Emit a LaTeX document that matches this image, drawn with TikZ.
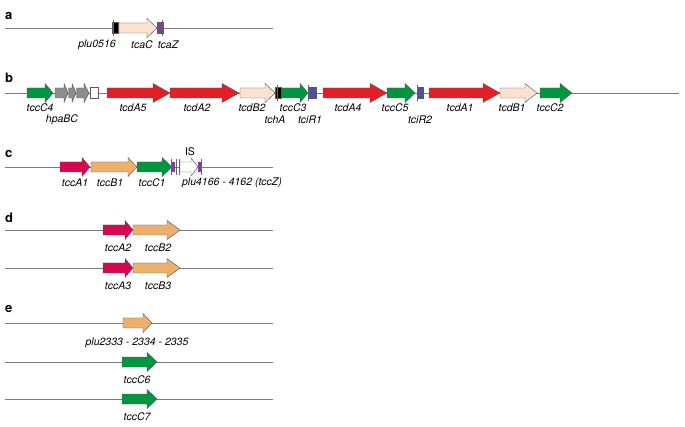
\documentclass[tikz,border=0pt]{standalone}
\usepackage{fontspec}
\setmainfont{TeX Gyre Heros}
\definecolor{gGreen}{HTML}{00963F}
\definecolor{gRed}{HTML}{E31E26}
\definecolor{gMag}{HTML}{D7064F}
\definecolor{gTan}{HTML}{EDB06C}
\definecolor{gPeach}{HTML}{FBE1CF}
\definecolor{gGray}{HTML}{8C8C8C}
\definecolor{gPurp}{HTML}{7E3F98}
\definecolor{gBlue}{HTML}{4D4FA0}
\definecolor{lineGray}{HTML}{7A7A7A}
\tikzset{
  chrom/.style={draw=lineGray,line width=0.8pt},
  geneout/.style={draw=black!65,line width=0.45pt,line join=miter},
  tickmark/.style={draw=black!60,line width=0.4pt},
  glabel/.style={font=\fontsize{10.5}{12}\selectfont\itshape,inner sep=0pt},
  panel/.style={font=\fontsize{13}{15}\selectfont\bfseries,anchor=base west,inner sep=0pt},
}
% gene arrow: x1, x2, head start, y, colour
\newcommand\genearrow[5]{\filldraw[geneout,fill=#5] (#1,#4-5) -- (#3,#4-5) -- (#3,#4-9.5) -- (#2,#4) -- (#3,#4+9.5) -- (#3,#4+5) -- (#1,#4+5) -- cycle;}
% small gene box: x1, x2, y, colour
\newcommand\genebox[4]{\filldraw[geneout,fill=#4] (#1,#3-5.5) rectangle (#2,#3+5.5);}
% tick: x, y
\newcommand\gtick[2]{\draw[tickmark] (#1,#2-8) -- (#1,#2+8);}
\begin{document}
\begin{tikzpicture}[x=1pt,y=-1pt]
\useasboundingbox (0,0) rectangle (685,427);
\fill[white] (0,0) rectangle (685,427);

% ---------- a ----------
\node[panel] (pa) at (5,20) {a};
\coordinate (a0) at (5,28); \coordinate (a1) at (273,28);
\draw[chrom] (a0) -- (a1);
\genebox{112}{118.5}{28}{black}
\genearrow{119}{157}{147}{28}{gPeach}
\genebox{157.5}{163}{28}{gPurp}
\gtick{113}{28}\gtick{162}{28}
\node[glabel] (la1) at (97,45) {plu0516};
\node[glabel] (la2) at (142,45) {tcaC};
\node[glabel] (la3) at (168,45) {tcaZ};

% ---------- b ----------
\node[panel] (pb) at (5,83) {b};
\coordinate (b0) at (5,93); \coordinate (b1) at (679,93);
\draw[chrom] (b0) -- (b1);
\genearrow{27}{53}{45}{93}{gGreen}
\genearrow{55}{68}{64}{93}{gGray}
\genearrow{68.5}{76}{72}{93}{gGray}
\genearrow{76.5}{89}{84}{93}{gGray}
\genebox{90}{98}{93}{white}
\genearrow{107}{170}{153}{93}{gRed}
\genearrow{170}{239}{222}{93}{gRed}
\genearrow{240}{275}{265}{93}{gPeach}
\genebox{275}{281}{93}{black}
\genearrow{282}{308}{300}{93}{gGreen}
\genebox{309}{316}{93}{gBlue}
\genearrow{323}{387}{370}{93}{gRed}
\genearrow{387}{415}{405}{93}{gGreen}
\genebox{417}{423}{93}{gBlue}
\genearrow{429}{500}{483}{93}{gRed}
\genearrow{500}{537}{525}{93}{gPeach}
\genearrow{540}{572}{560}{93}{gGreen}
\gtick{277}{93}\gtick{308}{93}\gtick{417}{93}
\node[glabel] (lb1) at (40,108) {tccC4};
\node[glabel] (lb2) at (62,120) {hpaBC};
\node[glabel] (lb3) at (133,108) {tcdA5};
\node[glabel] (lb4) at (197,108) {tcdA2};
\node[glabel] (lb5) at (252,108) {tcdB2};
\node[glabel] (lb6) at (275,120) {tchA};
\node[glabel] (lb7) at (293,108) {tccC3};
\node[glabel] (lb8) at (310,120) {tciR1};
\node[glabel] (lb9) at (348,108) {tcdA4};
\node[glabel] (lb10) at (395,108) {tccC5};
\node[glabel] (lb11) at (420,120) {tciR2};
\node[glabel] (lb12) at (460,108) {tcdA1};
\node[glabel] (lb13) at (512,108) {tcdB1};
\node[glabel] (lb14) at (550,108) {tccC2};

% ---------- c ----------
\node[panel] (pc) at (5,158) {c};
\coordinate (c0) at (5,167); \coordinate (c1) at (273,167);
\draw[chrom] (c0) -- (c1);
\genearrow{60}{90}{82}{167}{gMag}
\genearrow{91}{137}{128}{167}{gTan}
\genearrow{137}{172}{162}{167}{gGreen}
\fill[gPurp] (172,162) rectangle (175,172);
\gtick{176}{167}\gtick{179}{167}
\filldraw[geneout,fill=white] (180,162) -- (191,162) -- (191,158) -- (198,167) -- (191,176) -- (191,172) -- (180,172) -- cycle;
\fill[gPurp] (198,162) rectangle (201,172);
\gtick{171.5}{167}\gtick{201.5}{167}
\node[font=\fontsize{10.5}{12}\selectfont,inner sep=0pt] (lis) at (190,152) {IS};
\node[glabel] (lc1) at (75,183) {tccA1};
\node[glabel] (lc2) at (110,183) {tccB1};
\node[glabel] (lc3) at (152,183) {tccC1};
\node[glabel] (lc4) at (232,183) {plu4166 - 4162 (tccZ)};

% ---------- d ----------
\node[panel] (pd) at (5,223) {d};
\coordinate (d0) at (5,230); \coordinate (d1) at (273,230);
\draw[chrom] (d0) -- (d1);
\genearrow{103}{133}{125}{230}{gMag}
\genearrow{133}{180}{167}{230}{gTan}
\node[glabel] (ld1) at (118,248) {tccA2};
\node[glabel] (ld2) at (158,248) {tccB2};
\coordinate (d2) at (5,268); \coordinate (d3) at (273,268);
\draw[chrom] (d2) -- (d3);
\genearrow{103}{133}{125}{268}{gMag}
\genearrow{133}{180}{167}{268}{gTan}
\node[glabel] (ld3) at (118,286) {tccA3};
\node[glabel] (ld4) at (158,286) {tccB3};

% ---------- e ----------
\node[panel] (pe) at (5,313) {e};
\coordinate (e0) at (5,323); \coordinate (e1) at (273,323);
\draw[chrom] (e0) -- (e1);
\genearrow{123}{152}{143}{323}{gTan}
\node[glabel] (le1) at (137,343) {plu2333 - 2334 - 2335};
\coordinate (e2) at (5,362); \coordinate (e3) at (273,362);
\draw[chrom] (e2) -- (e3);
\genearrow{122}{157}{147}{362}{gGreen}
\node[glabel] (le2) at (137,380) {tccC6};
\coordinate (e4) at (5,399); \coordinate (e5) at (273,399);
\draw[chrom] (e4) -- (e5);
\genearrow{122}{157}{147}{399}{gGreen}
\node[glabel] (le3) at (137,417) {tccC7};
\end{tikzpicture}
\end{document}
